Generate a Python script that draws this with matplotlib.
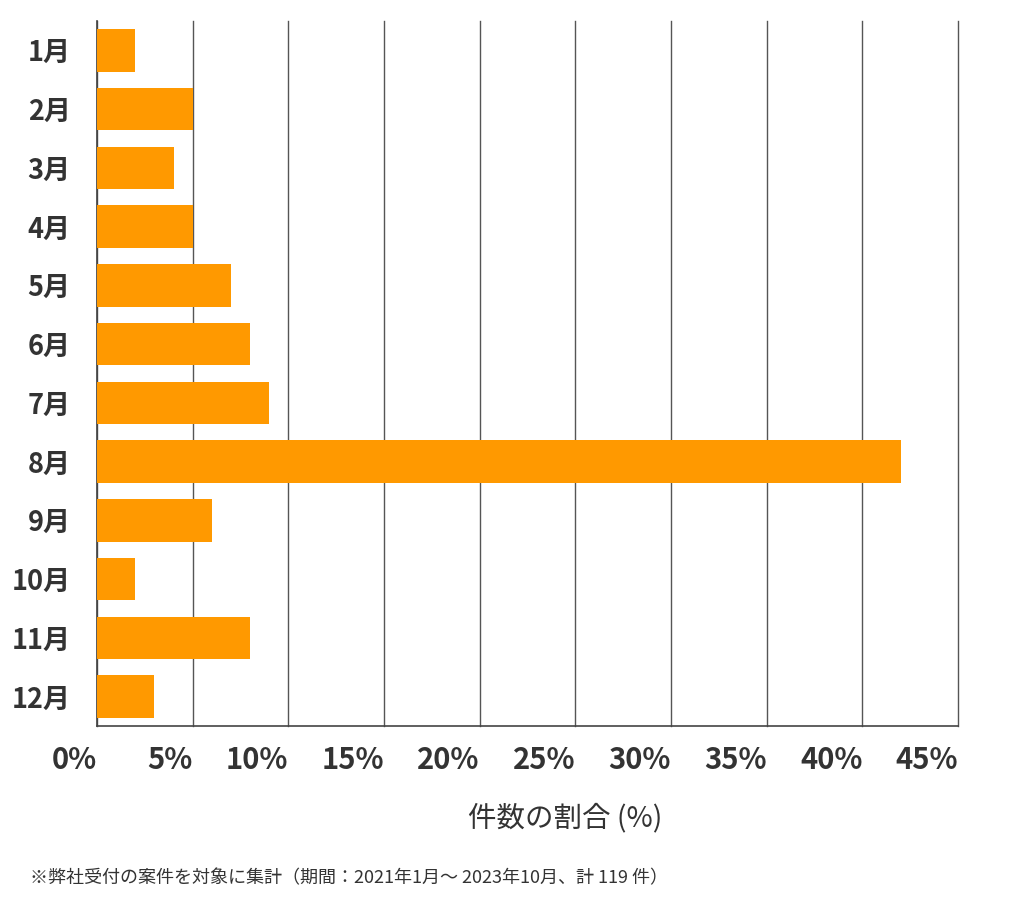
import matplotlib
matplotlib.use("Agg")
import matplotlib.pyplot as plt

plt.rcParams['font.family'] = ['Noto Sans CJK JP', 'DejaVu Sans']

months = ["1月", "2月", "3月", "4月", "5月", "6月", "7月", "8月", "9月", "10月", "11月", "12月"]
shares = [2, 5, 4, 5, 7, 8, 9, 42, 6, 2, 8, 3]
xticks = [0, 5, 10, 15, 20, 25, 30, 35, 40, 45]
xticklabels = [f"{v}%" for v in xticks]
xlabel = "件数の割合 (%)"
footnote = "※弊社受付の案件を対象に集計（期間：2021年1月～ 2023年10月、計 119 件）"

fig = plt.figure(figsize=(10.24, 9.05), dpi=100)
ax = fig.add_axes([97/1024, 1-726/905, (958-97)/1024, (726-21)/905])

ypos = list(range(len(months)))
ax.barh(ypos, shares, height=0.72, color="#FF9900", zorder=3)
ax.set_ylim(len(months)-0.5, -0.5)
ax.set_xlim(0, 45)
ax.set_xticks(xticks)
ax.set_xticklabels(xticklabels, fontsize=21, fontweight="bold", color="#333333", ha="right")
ax.set_yticks(ypos)
ax.set_yticklabels(months, fontsize=19.5, fontweight="bold", color="#333333")
ax.tick_params(axis="both", length=0)
ax.tick_params(axis="x", pad=14)
ax.tick_params(axis="y", pad=19)
ax.grid(axis="x", color="#555555", linewidth=1, zorder=1)
for gl in ax.get_xgridlines():
    gl.set_clip_on(False)
for s in ["top", "right"]:
    ax.spines[s].set_visible(False)
ax.spines["left"].set_color("#444444")
ax.spines["bottom"].set_color("#444444")
ax.spines["left"].set_linewidth(1.2)
ax.spines["bottom"].set_linewidth(1.2)

fig.text(565/1024, 1-818/905, xlabel, ha="center", va="center", fontsize=20.5, color="#333333")
fig.text(30/1024, 1-878/905, footnote, ha="left", va="center", fontsize=13, color="#333333")

fig.savefig("out.png", dpi=100, facecolor="white")
